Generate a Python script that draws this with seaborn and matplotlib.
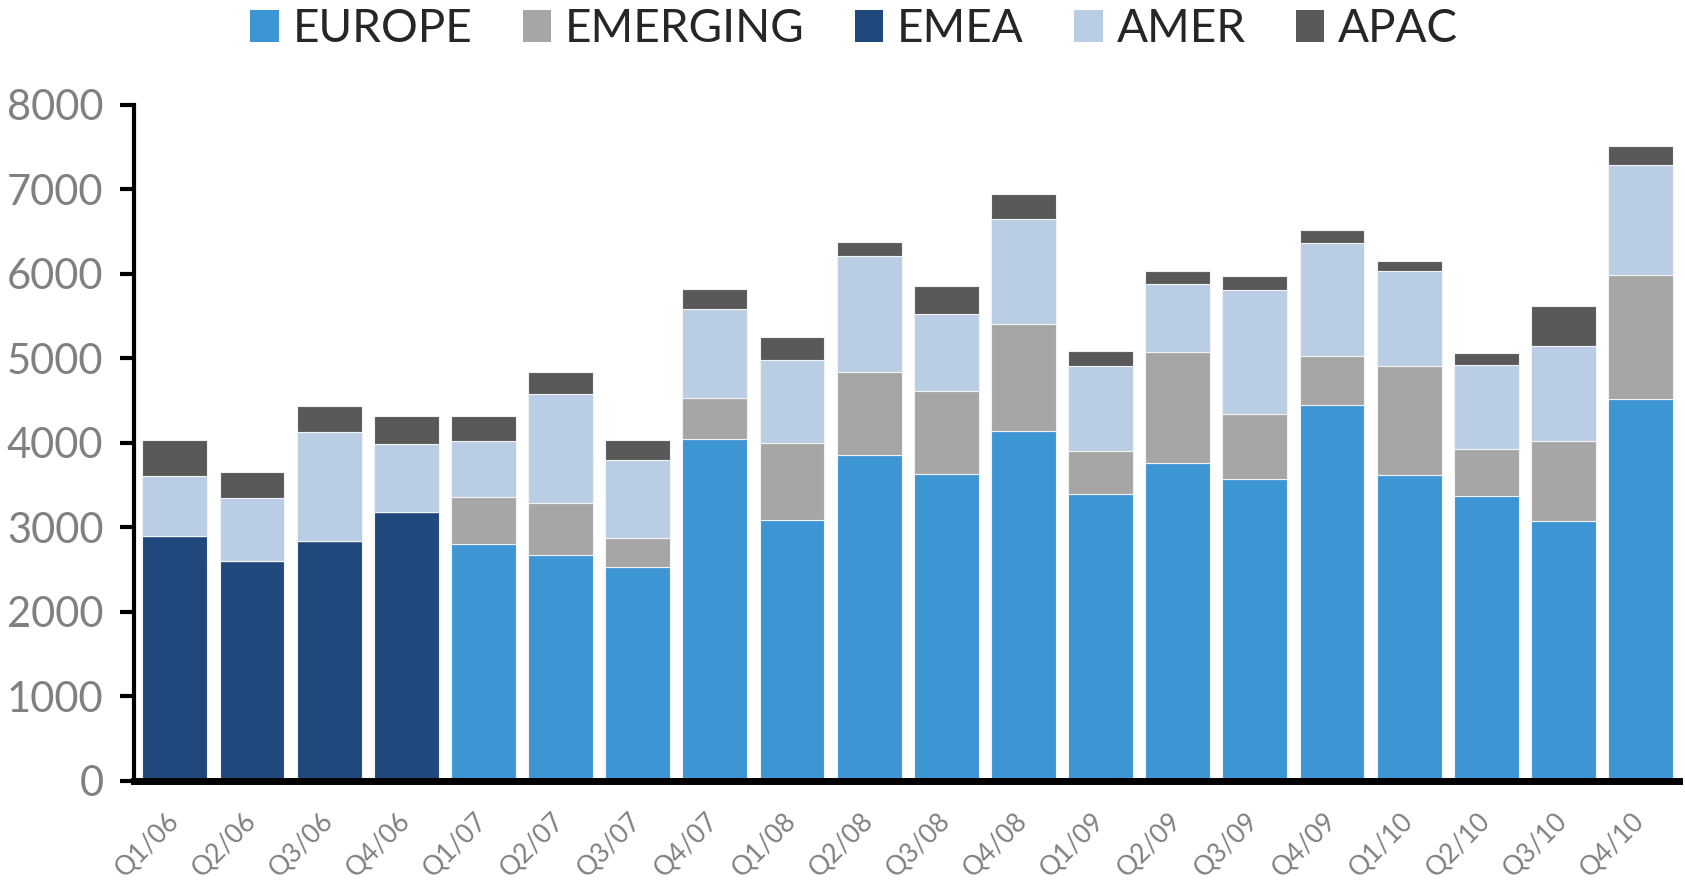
import matplotlib
matplotlib.use("Agg")
import matplotlib.pyplot as plt
from matplotlib.patches import Patch
import numpy as np
import pandas as pd
import seaborn as sns

# Dados (valores aproximados)
trimestres = ["Q1/06", "Q2/06", "Q3/06", "Q4/06", "Q1/07", "Q2/07", "Q3/07", "Q4/07",
              "Q1/08", "Q2/08", "Q3/08", "Q4/08", "Q1/09", "Q2/09", "Q3/09", "Q4/09",
              "Q1/10", "Q2/10", "Q3/10", "Q4/10"]
emea = [2900, 2600, 2840, 3180, 0, 0, 0, 0, 0, 0, 0, 0, 0, 0, 0, 0, 0, 0, 0, 0]
europe = [0, 0, 0, 0, 2800, 2680, 2530, 4050, 3090, 3860, 3635, 4140,
          3400, 3760, 3570, 4450, 3620, 3375, 3075, 4520]
emerging = [0, 0, 0, 0, 555, 615, 340, 485, 910, 975, 980, 1265,
            500, 1315, 775, 580, 1290, 555, 950, 1465]
amer = [710, 750, 1285, 805, 670, 1280, 930, 1045, 980, 1380, 915, 1240,
        1010, 810, 1465, 1335, 1120, 995, 1125, 1305]
apac = [430, 310, 315, 335, 295, 270, 235, 240, 275, 165, 330, 300,
        180, 155, 165, 160, 125, 135, 470, 225]

cores = {
    "EUROPE": "#3d95d4",
    "EMERGING": "#a6a6a6",
    "EMEA": "#1f497d",
    "AMER": "#b9cde5",
    "APAC": "#595959",
}

sns.set_style("ticks")
plt.rcParams["font.family"] = ["Lato", "DejaVu Sans"]

fig = plt.figure(figsize=(16.85, 8.88), dpi=100)
ax = fig.add_axes([0.0795, 0.1205, 0.917, 0.7613])

df = pd.DataFrame({"trimestre": trimestres})
base = np.zeros(len(trimestres))
camadas = [("EMEA", emea), ("EUROPE", europe), ("EMERGING", emerging),
           ("AMER", amer), ("APAC", apac)]
for nome, valores in camadas:
    df["valor"] = valores
    sns.barplot(data=df, x="trimestre", y="valor", color=cores[nome],
                bottom=base.copy(), width=0.84, errorbar=None,
                edgecolor="#f2f2f2", linewidth=0.8, saturation=1, ax=ax)
    base = base + np.array(valores)

ax.set_xlim(-0.53, 19.5)
ax.set_ylim(0, 8000)
ax.set_yticks(range(0, 8001, 1000))
ax.set_xlabel("")
ax.set_ylabel("")

for lado in ["top", "right"]:
    ax.spines[lado].set_visible(False)
ax.spines["left"].set_linewidth(3)
ax.spines["bottom"].set_linewidth(5)
ax.spines["left"].set_color("black")
ax.spines["bottom"].set_color("black")

ax.tick_params(axis="y", length=10, width=3, colors="black",
               labelcolor="#808080", labelsize=30, pad=12)
ax.tick_params(axis="x", length=0, labelcolor="#808080", labelsize=19, pad=26)
plt.setp(ax.get_xticklabels(), rotation=45, ha="right", va="center",
         rotation_mode="anchor")

ordem_legenda = ["EUROPE", "EMERGING", "EMEA", "AMER", "APAC"]
handles = [Patch(facecolor=cores[n], edgecolor="none", label=n) for n in ordem_legenda]
fig.legend(handles=handles, loc="upper center", bbox_to_anchor=(0.507, 1.022),
           ncol=5, frameon=False, fontsize=33, handlelength=0.62, handleheight=0.68,
           handletextpad=0.3, columnspacing=1.1, borderpad=0.1)

fig.savefig("out.png", dpi=100)
